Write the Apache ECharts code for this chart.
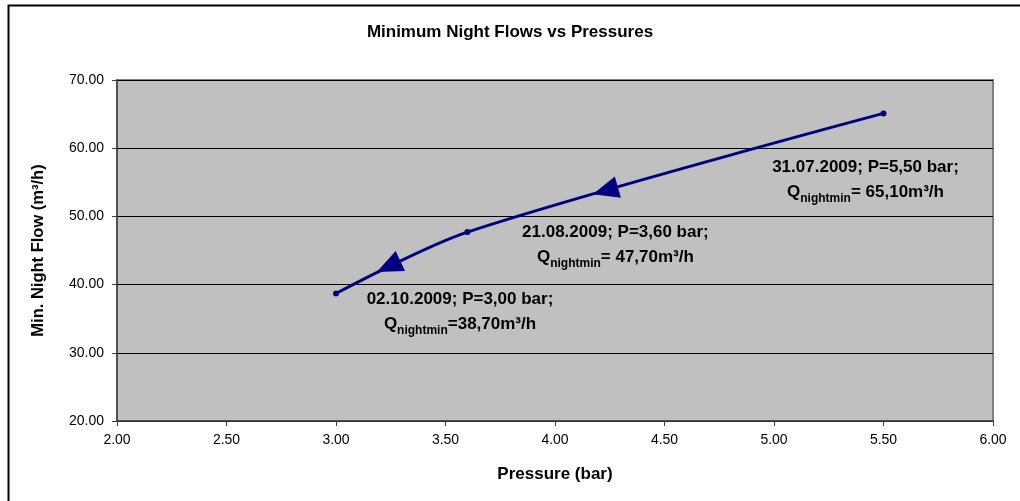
<!DOCTYPE html>
<html>
<head>
<meta charset="utf-8">
<script src="https://cdn.jsdelivr.net/npm/echarts@6/dist/echarts.min.js"></script>
<style>
html,body{margin:0;padding:0;background:#fff;}
#chart{width:1020px;height:501px;}
</style>
</head>
<body>
<div id="chart"></div>
<script>
// ---- data ----
const pressure = [3.00, 3.60, 5.50];
const flow = [38.70, 47.70, 65.10];
const dates = ['02.10.2009', '21.08.2009', '31.07.2009'];
const qSep = ['', ' ', ' '];
const arrowX = [3.24, 4.23];
const arrowY = [42.65, 53.76];
const arrowDir = [115, 106];
const titleText = 'Minimum Night Flows vs Pressures';
const xName = 'Pressure (bar)';
const yName = 'Min. Night Flow (m³/h)';

const FONT = '"Liberation Sans", Arial, sans-serif';
const labelOffsets = [[124, 18], [148, 13], [-18, 66]];

const fmt = v => v.toFixed(2).replace('.', ',');

const lineData = pressure.map((p, i) => ({
  value: [p, flow[i]],
  label: {
    show: true,
    position: 'inside',
    offset: labelOffsets[i],
    align: 'center',
    formatter: '{b|' + dates[i] + '; P=' + fmt(p) + ' bar;}\n{b|Q}{s|nightmin}{b|=' + qSep[i] + fmt(flow[i]) + 'm³/h}',
    rich: {
      b: { fontFamily: FONT, fontWeight: 'bold', fontSize: 17, color: '#000', lineHeight: 25 },
      s: { fontFamily: FONT, fontWeight: 'bold', fontSize: 12, color: '#000', lineHeight: 14, verticalAlign: 'bottom' }
    }
  }
}));

const arrowData = arrowX.map((x, i) => ({ value: [x, arrowY[i]] }));

const chart = echarts.init(document.getElementById('chart'));
chart.setOption({
  animation: false,
  backgroundColor: '#fff',
  title: {
    text: titleText,
    left: 'center',
    top: 19,
    textStyle: { fontFamily: FONT, fontWeight: 'bold', fontSize: 17, color: '#000' }
  },
  graphic: [{
    type: 'rect',
    left: 6, top: 3,
    shape: { width: 1100, height: 600 },
    style: { fill: 'none', stroke: '#000', lineWidth: 2 },
    silent: true
  }],
  grid: {
    left: 117, top: 80, width: 876, height: 341,
    show: true, backgroundColor: '#c0c0c0', borderColor: '#808080', borderWidth: 2
  },
  xAxis: {
    type: 'value', min: 2, max: 6, interval: 0.5,
    name: xName, nameLocation: 'middle', nameGap: 45,
    nameTextStyle: { fontFamily: FONT, fontWeight: 'bold', fontSize: 17, color: '#000' },
    axisLine: { show: true, lineStyle: { color: '#404040', width: 1.5 } },
    axisTick: { show: true, length: 5, lineStyle: { color: '#404040' } },
    axisLabel: { fontFamily: FONT, fontSize: 14, color: '#000', margin: 12, formatter: v => v.toFixed(2) },
    splitLine: { show: false }
  },
  yAxis: {
    type: 'value', min: 20, max: 70, interval: 10,
    name: yName, nameLocation: 'middle', nameGap: 70, nameRotate: 90,
    nameTextStyle: { fontFamily: FONT, fontWeight: 'bold', fontSize: 16.5, color: '#000' },
    axisLine: { show: true, lineStyle: { color: '#404040', width: 1.5 } },
    axisTick: { show: true, length: 5, lineStyle: { color: '#404040' } },
    axisLabel: { fontFamily: FONT, fontSize: 14, color: '#000', margin: 13, formatter: v => v.toFixed(2) },
    splitLine: { show: true, lineStyle: { color: '#000', width: 1 } }
  },
  series: [{
    type: 'line',
    data: lineData,
    smooth: 0.3,
    symbol: 'circle',
    symbolSize: 6,
    lineStyle: { color: '#000080', width: 3 },
    itemStyle: { color: '#000080' },
    z: 3
  }, {
    type: 'scatter',
    data: arrowData,
    symbol: 'triangle',
    symbolSize: [22, 26],
    symbolRotate: (val, params) => arrowDir[params.dataIndex],
    itemStyle: { color: '#000080', opacity: 1 },
    z: 4
  }]
});
</script>
</body>
</html>
